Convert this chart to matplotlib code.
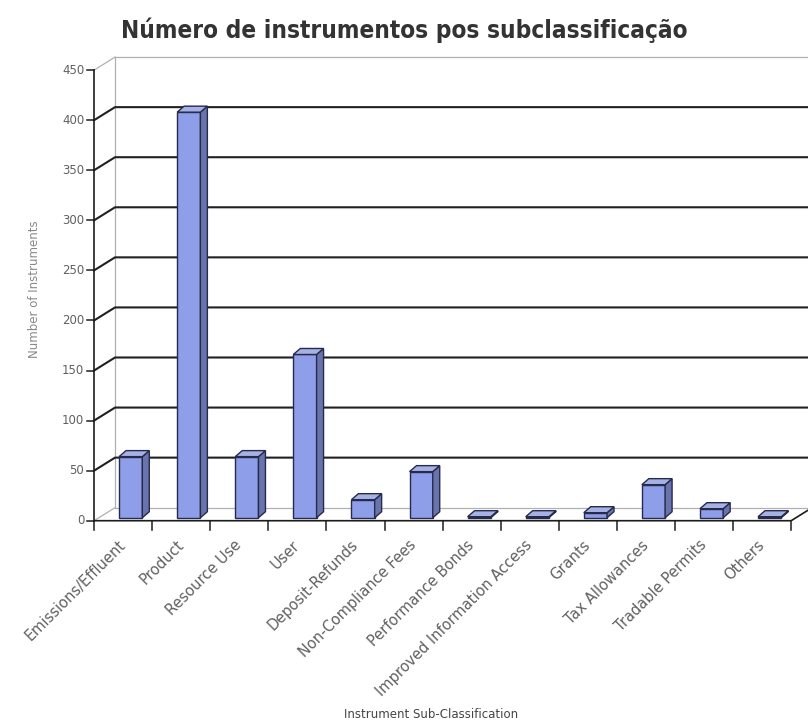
import matplotlib
matplotlib.use("Agg")
import matplotlib.pyplot as plt
from matplotlib.patches import Polygon

# data
categories = ['Emissions/Effluent', 'Product', 'Resource Use', 'User',
              'Deposit-Refunds', 'Non-Compliance Fees', 'Performance Bonds',
              'Improved Information Access', 'Grants', 'Tax Allowances',
              'Tradable Permits', 'Others']
counts = [61, 405, 61, 163, 18, 46, 1, 1, 5, 33, 9, 1]
y_ticks = [0, 50, 100, 150, 200, 250, 300, 350, 400, 450]

title = 'Número de instrumentos pos subclassificação'
x_label = 'Instrument Sub-Classification'
y_label = 'Number of Instruments'

# fake 3D geometry (in data units: x = category slots, y = counts)
WALL_DX, WALL_DY = 0.36, 13      # depth of back wall
BAR_DX, BAR_DY = 0.12, 6         # depth of each column
BAR_LEFT, BAR_W, BAR_BASE = 0.43, 0.40, 3

FRONT = '#8e9ee8'
TOP = '#a6b2e4'
SIDE = '#6a74ac'
EDGE = '#262b4e'

fig = plt.figure(figsize=(8.08, 7.27), dpi=100)
ax = fig.add_axes([0, 0, 1, 1])
ax.set_xlim(-1.62, 12.29)
ax.set_ylim(-206, 520)
ax.axis('off')

n = len(categories)
ymax = y_ticks[-1]

# left wall / back wall outline
ax.plot([WALL_DX, WALL_DX], [WALL_DY, ymax + WALL_DY], color='#b0b0b0', lw=0.9)
ax.plot([WALL_DX, n + WALL_DX], [ymax + WALL_DY, ymax + WALL_DY], color='#b0b0b0', lw=0.9)
ax.plot([WALL_DX, n + WALL_DX], [WALL_DY, WALL_DY], color='#b0b0b0', lw=0.9)
ax.plot([0, WALL_DX], [0, WALL_DY], color='#b0b0b0', lw=0.9)
ax.plot([0, WALL_DX], [ymax, ymax + WALL_DY], color='#b0b0b0', lw=0.9)

# gridlines: diagonal on left wall + horizontal on back wall
for v in y_ticks[1:-1]:
    ax.plot([0, WALL_DX, n + WALL_DX], [v, v + WALL_DY, v + WALL_DY],
            color='#202020', lw=1.5, solid_joinstyle='round')

# front axes
ax.plot([0, 0], [0, ymax], color='#1c1c1c', lw=1.2)
ax.plot([0, n, n + WALL_DX * 0.8], [0, 0, WALL_DY * 0.8], color='#1c1c1c', lw=1.2)
for v in y_ticks:
    ax.plot([-0.12, 0], [v, v], color='#1c1c1c', lw=1.1)
    ax.text(-0.17, v, str(v), ha='right', va='center', fontsize=8.5, color='#606060')
for i in range(n + 1):
    ax.plot([i, i], [0, -9], color='#1c1c1c', lw=1.1)

# columns
for i, val in enumerate(counts):
    x0 = i + BAR_LEFT
    x1 = x0 + BAR_W
    y0 = BAR_BASE
    y1 = BAR_BASE + val
    front = [(x0, y0), (x1, y0), (x1, y1), (x0, y1)]
    top = [(x0, y1), (x1, y1), (x1 + BAR_DX, y1 + BAR_DY), (x0 + BAR_DX, y1 + BAR_DY)]
    side = [(x1, y0), (x1 + BAR_DX, y0 + BAR_DY), (x1 + BAR_DX, y1 + BAR_DY), (x1, y1)]
    for pts, col in [(front, FRONT), (side, SIDE), (top, TOP)]:
        ax.add_patch(Polygon(pts, closed=True, facecolor=col, edgecolor=EDGE,
                             lw=1.0, zorder=3))

# category labels
for i, name in enumerate(categories):
    ax.text(i + 0.5, -22, name, rotation=45, rotation_mode='anchor',
            ha='right', va='center', fontsize=10.5, color='#606060')

ax.text(5.8, -194, x_label, ha='center', va='center', fontsize=8.5, color='#444444')
ax.text(-1.02, 231, y_label, rotation=90, ha='center', va='center',
        fontsize=8.5, color='#888888')

fig.text(0.5, 1 - 30 / 727, title, ha='center', va='center', fontsize=17.5,
         fontweight='bold', color='#333333', fontstretch='condensed',
         family=['Liberation Sans Narrow', 'DejaVu Sans'])

fig.savefig('out.png', dpi=100, facecolor='white')
